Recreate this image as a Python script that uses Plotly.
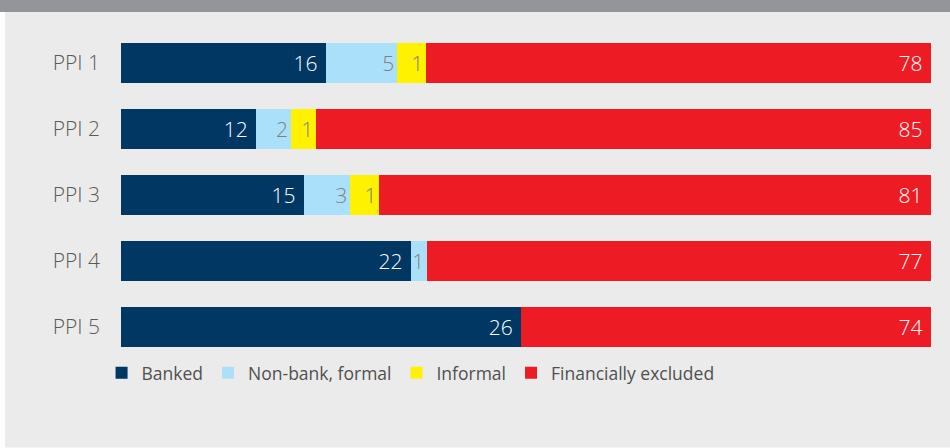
import plotly.graph_objects as go

# categories (top to bottom)
lst_ppi = ['PPI 1', 'PPI 2', 'PPI 3', 'PPI 4', 'PPI 5']

# segment lengths as drawn in the picture (share of bar length, %)
lst_banked_len = [25.3, 16.7, 22.6, 35.8, 49.4]
lst_nonbank_len = [8.8, 4.3, 5.7, 2.0, 0]
lst_informal_len = [3.6, 3.1, 3.6, 0, 0]
lst_excluded_len = [62.3, 75.9, 68.1, 62.2, 50.6]

# values printed on the segments
lst_banked_lbl = ['16', '12', '15', '22', '26']
lst_nonbank_lbl = ['5', '2', '3', '1', '']
lst_informal_lbl = ['1', '1', '1', '', '']
lst_excluded_lbl = ['78', '85', '81', '77', '74']

lst_series = [
    ('Banked', lst_banked_len, lst_banked_lbl, '#003763', 'white', '%{text}\u00a0'),
    ('Non-bank, formal', lst_nonbank_len, lst_nonbank_lbl, '#abe0fa', '#808080', '%{text}'),
    ('Informal', lst_informal_len, lst_informal_lbl, '#fff200', '#808080', '%{text}'),
    ('Financially excluded', lst_excluded_len, lst_excluded_lbl, '#ed1c24', 'white', '%{text}\u00a0'),
]

fig = go.Figure()
for name, arr_len, arr_lbl, col, txtcol, tmpl in lst_series:
    fig.add_trace(go.Bar(
        y=lst_ppi, x=arr_len, name=name, orientation='h',
        marker=dict(color=col, line=dict(width=0)),
        text=arr_lbl, texttemplate=tmpl, textposition='inside', insidetextanchor='end',
        textangle=0, constraintext='none',
        textfont=dict(color=txtcol, size=21, family='Open Sans', weight=300),
        hoverinfo='skip',
    ))

fig.update_layout(
    width=950, height=448,
    barmode='stack', bargap=0.394,
    margin=dict(l=121, r=19, t=30, b=88),
    paper_bgcolor='white', plot_bgcolor='rgba(0,0,0,0)',
    font=dict(family='Open Sans', color='#5a5a5a'),
    showlegend=True,
    legend=dict(orientation='h', traceorder='normal', x=-0.024, xanchor='left', y=-0.039, yanchor='middle',
                font=dict(size=17.5, color='#505050', family='Open Sans'),
                itemwidth=30, tracegroupgap=0, bgcolor='rgba(0,0,0,0)'),
    uniformtext=dict(minsize=10, mode='show'),
    shapes=[
        # light grey panel
        dict(type='rect', xref='paper', yref='paper', x0=-0.1432, x1=1.03, y0=-0.265, y1=1.0576,
             fillcolor='#ebebeb', line=dict(width=0), layer='below'),
        # dark grey band on top
        dict(type='rect', xref='paper', yref='paper', x0=-0.15, x1=1.03, y0=1.0545, y1=1.095,
             fillcolor='#939598', line=dict(width=0), layer='below'),
    ],
)
fig.update_xaxes(range=[0, 100], visible=False, fixedrange=True)
fig.update_yaxes(categoryorder='array', categoryarray=lst_ppi[::-1],
                 showgrid=False, zeroline=False, showline=False, ticks='',
                 ticklabelstandoff=20, fixedrange=True,
                 tickfont=dict(size=21, color='#5a5a5a', family='Open Sans', weight=300))

fig.write_html("out.html", config={'displayModeBar': False},
               post_script="document.body.style.margin='0';")
